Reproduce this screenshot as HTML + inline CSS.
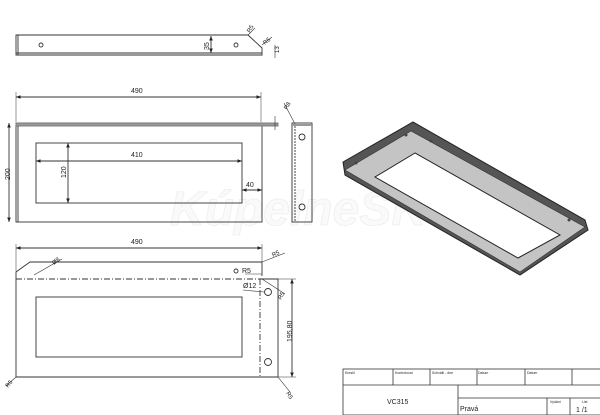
<!DOCTYPE html>
<html><head><meta charset="utf-8"><style>
html,body{margin:0;padding:0;background:#fff;width:600px;height:415px;overflow:hidden}
svg{display:block}
text{font-family:"Liberation Sans",sans-serif;fill:#222}
</style></head><body>
<svg width="600" height="415" viewBox="0 0 600 415" xmlns="http://www.w3.org/2000/svg">
<defs><marker id="a" markerWidth="6" markerHeight="6" refX="5" refY="3" orient="auto-start-reverse"><path d="M0,1 L5,3 L0,5z" fill="#222"/></marker></defs>
<text x="170" y="225" font-size="48" font-style="italic" font-weight="bold" style="fill:#fafafa;stroke:#eeeeee;stroke-width:0.8">KúpelneSK</text>
<g stroke="#333" stroke-width="0.9" fill="none">
<path d="M16,35 L248,35 L262,48 L262,55 L16,55 Z"/>
<line x1="16" y1="53" x2="262" y2="53"/>
<line x1="18" y1="35" x2="18" y2="55"/>
<circle cx="41" cy="45" r="2"/><circle cx="236" cy="45" r="2"/>
<line x1="211" y1="36" x2="211" y2="53" marker-start="url(#a)" marker-end="url(#a)"/>
<line x1="275" y1="45" x2="275" y2="58" stroke-width="0.6"/>
<line x1="248" y1="35" x2="255" y2="28" stroke-width="0.6"/>
<line x1="262" y1="45" x2="272" y2="37" stroke-width="0.6"/>
<line x1="16" y1="97" x2="261" y2="97" marker-start="url(#a)" marker-end="url(#a)"/>
<line x1="16" y1="92" x2="16" y2="122" stroke-width="0.5"/><line x1="261" y1="92" x2="261" y2="122" stroke-width="0.5"/>
<rect x="16" y="123" width="246" height="99"/>
<rect x="16" y="123" width="262" height="3" fill="#999" stroke="#777"/>
<line x1="18" y1="126" x2="18" y2="222"/>
<rect x="36" y="143" width="206" height="60"/>
<line x1="36" y1="161" x2="242" y2="161" marker-start="url(#a)" marker-end="url(#a)"/>
<line x1="68" y1="143" x2="68" y2="203" marker-start="url(#a)" marker-end="url(#a)"/>
<line x1="242" y1="190" x2="262" y2="190" marker-start="url(#a)" marker-end="url(#a)"/>
<line x1="9" y1="123" x2="9" y2="222" marker-start="url(#a)" marker-end="url(#a)"/>
<line x1="275" y1="116" x2="275" y2="130" stroke-width="0.6"/>
<rect x="292" y="123" width="20" height="99"/>
<line x1="295" y1="126" x2="295" y2="222" stroke-dasharray="2,1"/>
<line x1="292" y1="125" x2="312" y2="125" stroke-width="2" stroke="#999"/>
<circle cx="302" cy="137" r="3"/><circle cx="302" cy="207" r="3"/>
<line x1="284" y1="103" x2="295" y2="124" stroke-width="0.6"/>
<line x1="16" y1="248" x2="262" y2="248" marker-start="url(#a)" marker-end="url(#a)"/>
<line x1="16" y1="244" x2="16" y2="272" stroke-width="0.5"/><line x1="262" y1="244" x2="262" y2="262" stroke-width="0.5"/>
<path d="M16,272 L30,262 L262,262 L262,276"/>
<line x1="16" y1="279" x2="262" y2="279" stroke-dasharray="6,2,1,2"/>
<path d="M16,272 L16,377 L278,377 L278,279 L262,279"/>
<line x1="260" y1="279" x2="260" y2="377" stroke-dasharray="6,2,1,2"/>
<rect x="36" y="297" width="206" height="60"/>
<circle cx="236" cy="271" r="2"/><circle cx="268" cy="292" r="3.5"/><circle cx="268" cy="362" r="3.5"/>
<line x1="292" y1="279" x2="292" y2="377" marker-start="url(#a)" marker-end="url(#a)"/>
<line x1="278" y1="279" x2="296" y2="279" stroke-width="0.5"/><line x1="278" y1="377" x2="296" y2="377" stroke-width="0.5"/>
<line x1="34" y1="275" x2="62" y2="259" stroke-width="0.6"/>
<line x1="262" y1="262" x2="285" y2="253" stroke-width="0.6"/>
<line x1="245" y1="274" x2="262" y2="274" stroke-width="0.6"/>
<line x1="243" y1="290" x2="264" y2="292" stroke-width="0.6"/>
<line x1="262" y1="279" x2="285" y2="294" stroke-width="0.6"/>
<line x1="16" y1="377" x2="6" y2="386" stroke-width="0.6"/>
<line x1="278" y1="377" x2="290" y2="392" stroke-width="0.6"/>
</g>
<g font-size="7">
<text x="131" y="93">490</text>
<text x="131" y="157">410</text>
<text x="246" y="187">40</text>
<text x="131" y="244">490</text>
<text x="242" y="273">R5</text>
<text x="243" y="288">Ø12</text>
<text transform="translate(209,50) rotate(-90)">35</text>
<text transform="translate(66,178) rotate(-90)">120</text>
<text transform="translate(10,180) rotate(-90)">200</text>
<text transform="translate(292,342) rotate(-90)">195,80</text>
<text transform="translate(279,53) rotate(-90)" font-size="6">13</text>
<text transform="translate(250,33) rotate(-60)" font-size="6">R5</text>
<text transform="translate(265,45) rotate(-40)" font-size="6">R5</text>
<text transform="translate(287,110) rotate(-60)" font-size="6">R8</text>
<text transform="translate(54,265) rotate(-40)" font-size="6">Ø8</text>
<text transform="translate(273,257) rotate(-25)" font-size="6">R5</text>
<text transform="translate(281,300) rotate(-60)" font-size="6">R5</text>
<text transform="translate(8,388) rotate(-50)" font-size="6">R5</text>
<text transform="translate(286,393) rotate(60)" font-size="6">R5</text>
</g>
<path d="M343,162 L413,122 L585,220 L588,230 L520,275 L345,175 Z" fill="#555" stroke="#222" stroke-width="1"/>
<path d="M345,170 L411,131 L585,227 L520,272 Z" fill="#c4c4c4" stroke="#333" stroke-width="0.6"/>
<path d="M415,153 L375,177 L518,258 L560,235 Z" fill="#fff" stroke="#222" stroke-width="1"/>
<g fill="#444"><circle cx="356" cy="163" r="1.5"/><circle cx="406" cy="135" r="1.5"/><circle cx="431" cy="141" r="1.5"/><circle cx="569" cy="220" r="1.5"/></g>
<g stroke="#333" stroke-width="0.8" fill="none">
<rect x="343" y="369" width="260" height="46"/>
<line x1="343" y1="385" x2="600" y2="385"/>
<line x1="393" y1="369" x2="393" y2="385"/><line x1="430" y1="369" x2="430" y2="385"/>
<line x1="477" y1="369" x2="477" y2="385"/><line x1="525" y1="369" x2="525" y2="385"/>
<line x1="572" y1="369" x2="572" y2="385"/>
<line x1="458" y1="385" x2="458" y2="415"/>
<line x1="458" y1="398" x2="600" y2="398"/>
<line x1="547" y1="398" x2="547" y2="415"/><line x1="570" y1="398" x2="570" y2="415"/>
</g>
<g font-size="3.5"><text x="345" y="374">Kreslil</text><text x="395" y="374">Kontroloval</text><text x="432" y="374">Schválil - dne</text><text x="478" y="374">Datum</text><text x="527" y="374">Datum</text><text x="550" y="403">Vydání</text><text x="582" y="403">List</text></g>
<text x="387" y="404" font-size="7">VC315</text>
<text x="460" y="411" font-size="7">Pravá</text>
<text x="576" y="412" font-size="7">1 /1</text>
</svg>
</body></html>
